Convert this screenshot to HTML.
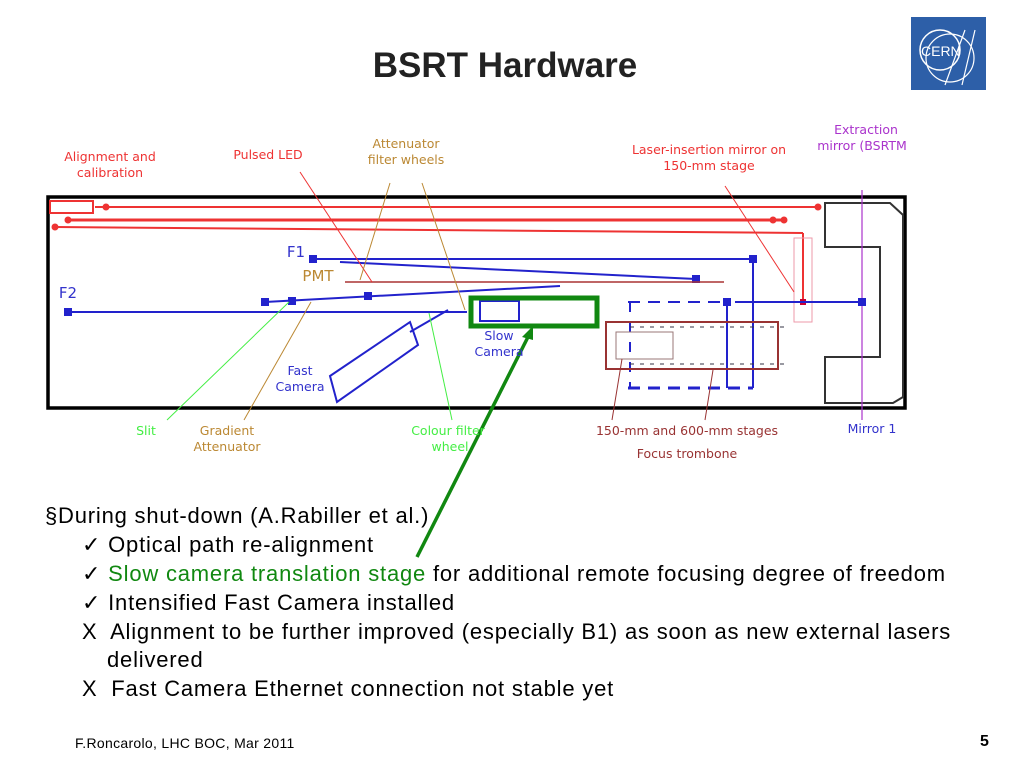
<!DOCTYPE html>
<html><head><meta charset="utf-8"><style>
body{margin:0;width:1024px;height:768px;background:#fff;position:relative;overflow:hidden;font-family:"Liberation Sans",sans-serif}
.t{position:absolute;white-space:nowrap}
.b{font-size:22px;color:#000;letter-spacing:0.8px}
</style></head><body>
<div class="t" style="left:0;width:1010px;text-align:center;top:46px;font-size:35px;font-weight:bold;color:#222">BSRT Hardware</div>
<svg width="1024" height="768" style="position:absolute;left:0;top:0" font-family="DejaVu Sans, Liberation Sans, sans-serif">
<!-- CERN logo -->
<rect x="911" y="17" width="75" height="73" fill="#2d5fa8"/>
<circle cx="940" cy="50" r="20" fill="none" stroke="#fff" stroke-width="1.5"/>
<circle cx="950" cy="58" r="24" fill="none" stroke="#fff" stroke-width="1.2"/>
<path d="M965 30 L945 85 M975 30 L962 85" stroke="#fff" stroke-width="1.2"/>
<text x="921" y="56" font-size="14" fill="#fff" font-family="Liberation Sans">CERN</text>
<!-- box -->
<rect x="48" y="197" width="857" height="211" fill="none" stroke="#000" stroke-width="3.5"/>
<!-- right bracket -->
<path d="M825 203 H890 L903 215 V397 L893 403 H825 V357 H880 V247 H825 Z" fill="#fff" stroke="#333" stroke-width="2"/>
<!-- red lines -->
<g stroke="#e33" stroke-width="2" fill="#e33">
<rect x="50" y="201" width="43" height="12" fill="none"/>
<line x1="95" y1="207" x2="818" y2="207"/><circle cx="818" cy="207" r="2.5"/>
<line x1="68" y1="220" x2="784" y2="220" stroke-width="3"/><circle cx="784" cy="220" r="2.5"/><circle cx="773" cy="220" r="2.5"/>
<line x1="55" y1="227" x2="803" y2="233"/><line x1="803" y1="233" x2="803" y2="302"/>
<circle cx="68" cy="220" r="2.5"/><circle cx="55" cy="227" r="2.5"/><circle cx="106" cy="207" r="2.5"/>
</g>
<rect x="794" y="238" width="18" height="84" fill="none" stroke="#e9a" stroke-width="1"/>
<rect x="800" y="299" width="6" height="6" fill="#c03"/>
<!-- purple -->
<line x1="862" y1="190" x2="862" y2="420" stroke="#a3c" stroke-width="1.2"/>
<!-- blue -->
<g stroke="#22c" stroke-width="2" fill="#22c">
<line x1="313" y1="259" x2="753" y2="259"/><rect x="310" y="256" width="6" height="6"/><rect x="750" y="256" width="6" height="6"/>
<line x1="753" y1="259" x2="753" y2="388"/>
<line x1="340" y1="262" x2="696" y2="279"/><rect x="693" y="276" width="6" height="6"/>
<line x1="68" y1="312" x2="467" y2="312"/><rect x="65" y="309" width="6" height="6"/>
<line x1="265" y1="302" x2="560" y2="286"/><rect x="262" y="299" width="6" height="6"/><rect x="289" y="298" width="6" height="6"/><rect x="365" y="293" width="6" height="6"/>
<rect x="480" y="301" width="39" height="20" fill="none"/>
<line x1="735" y1="302" x2="862" y2="302"/><rect x="859" y="299" width="6" height="6"/>
<line x1="727" y1="302" x2="727" y2="388"/><rect x="724" y="299" width="6" height="6"/>
<line x1="628" y1="302" x2="727" y2="302" stroke-dasharray="12,8"/>
<line x1="628" y1="388" x2="753" y2="388" stroke-dasharray="12,8" stroke-width="3"/>
<line x1="630" y1="302" x2="630" y2="388" stroke-dasharray="10,10"/>
<line x1="448" y1="310" x2="410" y2="332"/>
<path d="M330 376 L410 322 L418 345 L337 402 Z" fill="none"/>
</g>
<!-- PMT -->
<line x1="345" y1="282" x2="724" y2="282" stroke="#a33" stroke-width="1.5"/>
<!-- brown stage -->
<rect x="606" y="322" width="172" height="47" fill="none" stroke="#933" stroke-width="2"/>
<rect x="616" y="332" width="57" height="27" fill="none" stroke="#977" stroke-width="1"/>
<line x1="630" y1="327" x2="790" y2="327" stroke="#334" stroke-dasharray="4,6"/>
<line x1="630" y1="364" x2="790" y2="364" stroke="#334" stroke-dasharray="4,6"/>
<!-- pointers -->
<g stroke-width="1">
<line x1="300" y1="172" x2="372" y2="282" stroke="#e33"/>
<line x1="390" y1="183" x2="360" y2="280" stroke="#b83"/>
<line x1="422" y1="183" x2="465" y2="310" stroke="#b83"/>
<line x1="725" y1="186" x2="794" y2="292" stroke="#e33"/>
<line x1="167" y1="420" x2="289" y2="302" stroke="#4e4"/>
<line x1="244" y1="420" x2="311" y2="302" stroke="#b83"/>
<line x1="452" y1="420" x2="429" y2="313" stroke="#4e4"/>
<line x1="612" y1="420" x2="622" y2="359" stroke="#933"/>
<line x1="705" y1="420" x2="713" y2="370" stroke="#933"/>
</g>
<!-- green -->
<rect x="471" y="298" width="126" height="28" fill="none" stroke="#118811" stroke-width="5"/>
<line x1="417" y1="557" x2="530" y2="333" stroke="#118811" stroke-width="3.5"/>
<polygon points="533,326 522,337 533,340" fill="#118811"/>
<!-- labels -->
<g font-size="12.5" text-anchor="middle">
<text x="110" y="161" fill="#e33">Alignment and</text><text x="110" y="177" fill="#e33">calibration</text>
<text x="268" y="159" fill="#e33">Pulsed LED</text>
<text x="406" y="148" fill="#b83">Attenuator</text><text x="406" y="164" fill="#b83">filter wheels</text>
<text x="709" y="154" fill="#e33">Laser-insertion mirror on</text><text x="709" y="170" fill="#e33">150-mm stage</text>
<text x="866" y="134" fill="#a3c">Extraction</text><text x="862" y="150" fill="#a3c">mirror (BSRTM</text>
<text x="146" y="435" fill="#4e4">Slit</text>
<text x="227" y="435" fill="#b83">Gradient</text><text x="227" y="451" fill="#b83">Attenuator</text>
<text x="448" y="435" fill="#4e4">Colour filter</text><text x="450" y="451" fill="#4e4">wheel</text>
<text x="687" y="435" fill="#933">150-mm and 600-mm stages</text>
<text x="687" y="458" fill="#933">Focus trombone</text>
<text x="872" y="433" fill="#33c">Mirror 1</text>
<text x="300" y="375" fill="#33c">Fast</text><text x="300" y="391" fill="#33c">Camera</text>
<text x="499" y="340" fill="#33c">Slow</text><text x="499" y="356" fill="#33c">Camera</text>
<text x="296" y="257" fill="#33c" font-size="15">F1</text>
<text x="68" y="298" fill="#33c" font-size="15">F2</text>
<text x="318" y="281" fill="#b83" font-size="15">PMT</text>
</g>
</svg>
<div class="t b" style="left:45px;top:503px">§During shut-down (A.Rabiller et al.)</div>
<div class="t b" style="left:82px;top:532px">✓ Optical path re-alignment</div>
<div class="t b" style="left:82px;top:561px">✓ <span style="color:#118811">Slow camera translation stage</span> for additional remote focusing degree of freedom</div>
<div class="t b" style="left:82px;top:590px">✓ Intensified Fast Camera installed</div>
<div class="t b" style="left:82px;top:619px">X&nbsp; Alignment to be further improved (especially B1) as soon as new external lasers</div>
<div class="t b" style="left:107px;top:647px">delivered</div>
<div class="t b" style="left:82px;top:676px">X&nbsp; Fast Camera Ethernet connection not stable yet</div>
<div class="t" style="left:75px;top:735px;font-size:14px;letter-spacing:0.3px">F.Roncarolo, LHC BOC, Mar 2011</div>
<div class="t" style="left:980px;top:733px;font-size:16px;font-weight:bold">5</div>
</body></html>
